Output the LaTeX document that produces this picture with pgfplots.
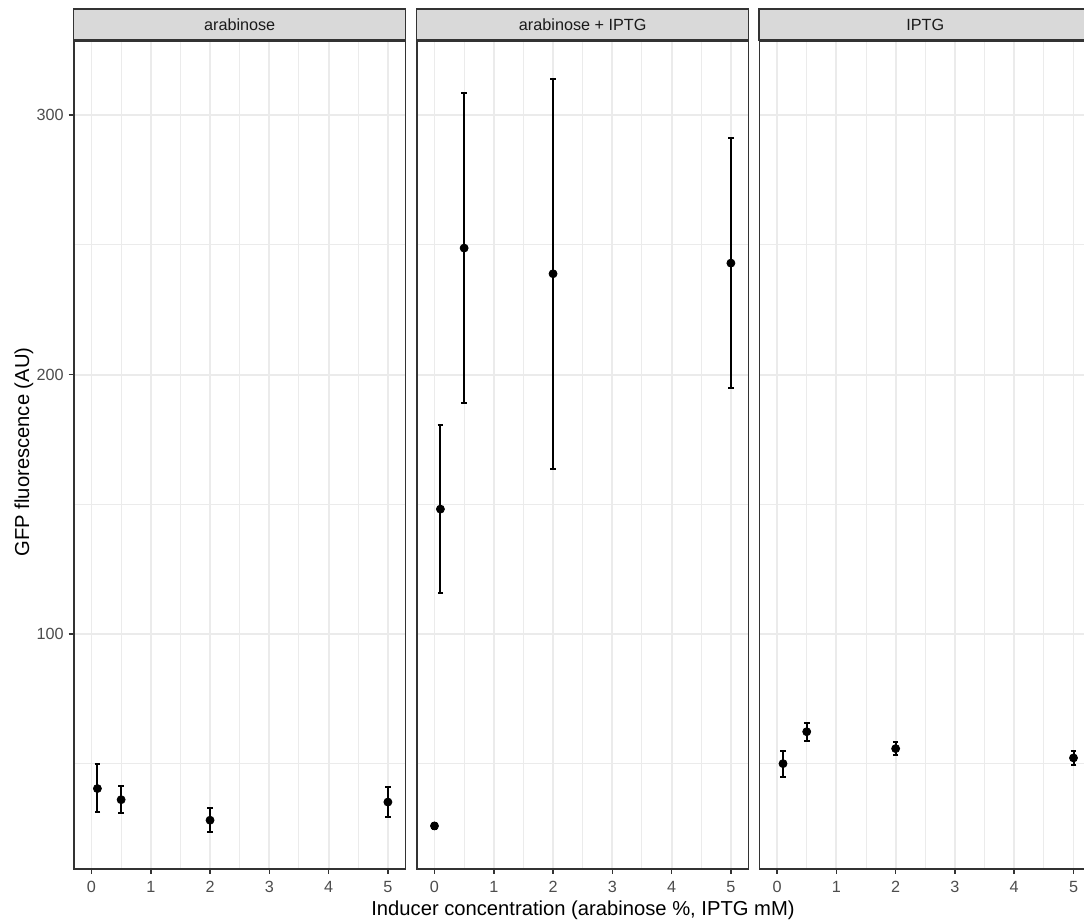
\documentclass[border=0pt]{standalone}
\usepackage{pgfplots}
\pgfplotsset{compat=1.18}
\usepackage{pgfplotstable}
\usepackage{fontspec}
\setmainfont{Liberation Sans}
\definecolor{grey10}{HTML}{1A1A1A}
\definecolor{grey20}{HTML}{333333}
\definecolor{grey30}{HTML}{4D4D4D}
\definecolor{grey85}{HTML}{D9D9D9}
\definecolor{grey92}{HTML}{EBEBEB}

\pgfplotstableread{
x y ep em
0.1 40.5 9.3 9.1
0.5 36.2 5.3 5.2
2 28.3 4.8 4.7
5 35.3 5.9 5.9
}\tabA
\pgfplotstableread{
x y ep em
0 26.1 1.2 1.2
0.1 148.2 32.5 32.4
0.5 248.8 59.8 59.8
2 238.9 75.2 75.2
5 243.0 48.1 48.0
}\tabB
\pgfplotstableread{
x y ep em
0.1 50.1 5.0 5.0
0.5 62.4 3.5 3.6
2 55.9 2.4 2.6
5 52.3 2.5 2.7
}\tabC

\pgfplotsset{
  every axis title shift=0pt,
  panel/.style={
    anchor=south west, width=166pt, height=414pt, scale only axis,
    xmin=-0.3, xmax=5.3, ymin=9.5, ymax=328.6,
    xtick={0,1,2,3,4,5}, ytick={100,200,300},
    minor xtick={0.5,1.5,2.5,3.5,4.5}, minor ytick={50,150,250},
    grid=both,
    major grid style={color=grey92, line width=0.9pt},
    minor grid style={color=grey92, line width=0.5pt},
    axis line style={draw=grey20, line width=0.8pt},
    tick align=outside, major tick length=2.5pt, minor tick length=0pt,
    tick style={grey20, line width=0.8pt},
    xtick pos=lower, ytick pos=left,
    tick label style={font=\fontsize{8.1}{9.5}\selectfont, text=grey30},
    yticklabel style={xshift=1pt},
    /pgf/number format/assume math mode=true,
    title style={at={(0.5,1)}, anchor=south, yshift=0pt, draw=grey20, fill=grey85,
      line width=0.8pt, minimum width=166pt, minimum height=15.5pt, inner sep=0pt,
      text=grey10, font=\fontsize{8.1}{9.5}\selectfont},
  },
  pts/.style={only marks, mark=*, mark size=2pt, black,
    error bars/.cd, y dir=both, y explicit,
    error bar style={line width=1pt, black},
    error mark options={rotate=90, mark size=1.4pt, line width=1pt, black}},
}

\begin{document}
\begin{tikzpicture}
\useasboundingbox (0,0) rectangle (542pt,460.5pt);
\begin{axis}[panel, at={(36.85pt,26pt)}, title={arabinose}]
\addplot[pts] table[x=x, y=y, y error plus=ep, y error minus=em] {\tabA};
\end{axis}
\begin{axis}[panel, at={(208.35pt,26pt)}, title={arabinose + IPTG}, yticklabels={}, ytick style={draw=none}]
\addplot[pts] table[x=x, y=y, y error plus=ep, y error minus=em] {\tabB};
\end{axis}
\begin{axis}[panel, at={(379.65pt,26pt)}, title={IPTG}, yticklabels={}, ytick style={draw=none}]
\addplot[pts] table[x=x, y=y, y error plus=ep, y error minus=em] {\tabC};
\end{axis}
\node[anchor=base, font=\fontsize{10.1}{12}\selectfont, inner sep=0pt] at (291.5pt,2.5pt) {Inducer concentration (arabinose \%, IPTG mM)};
\node[anchor=base, rotate=90, font=\fontsize{10.1}{12}\selectfont, inner sep=0pt] at (14.5pt,234.5pt) {GFP fluorescence (AU)};
\end{tikzpicture}
\end{document}
